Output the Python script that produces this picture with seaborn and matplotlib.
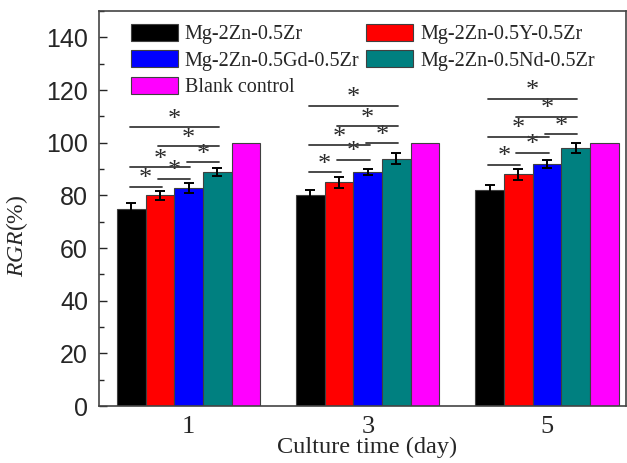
import matplotlib
matplotlib.use("Agg")
import matplotlib.pyplot as plt
import seaborn as sns
import pandas as pd
from matplotlib.ticker import MultipleLocator

# data
days = ["1", "3", "5"]
alloys = ["Mg-2Zn-0.5Zr", "Mg-2Zn-0.5Y-0.5Zr", "Mg-2Zn-0.5Gd-0.5Zr",
          "Mg-2Zn-0.5Nd-0.5Zr", "Blank control"]
colors = ["#000000", "#ff0000", "#0000ff", "#008080", "#ff00ff"]
rgr_zr = [75, 80, 82]
rgr_y = [80, 85, 88]
rgr_gd = [83, 89, 92]
rgr_nd = [89, 94, 98]
rgr_blank = [100, 100, 100]
err_zr = [2.0, 2.2, 2.0]
err_y = [1.8, 2.0, 2.0]
err_gd = [1.9, 1.2, 1.5]
err_nd = [1.6, 2.2, 1.9]

# significance brackets (bar index pairs) and their heights per day
sig_pairs = [(0, 1), (1, 2), (0, 2), (2, 3), (1, 3), (0, 3)]
sig_day1 = [83.3, 86.2, 90.7, 92.6, 98.7, 105.8]
sig_day3 = [88.8, 93.4, 99.0, 99.8, 106.3, 114.1]
sig_day5 = [91.6, 96.2, 102.3, 103.2, 109.9, 116.6]

rows = []
for a, vals, errs in zip(alloys,
                         [rgr_zr, rgr_y, rgr_gd, rgr_nd, rgr_blank],
                         [err_zr, err_y, err_gd, err_nd, [0, 0, 0]]):
    for d, v, e in zip(days, vals, errs):
        rows.append({"day": d, "alloy": a, "rgr": v, "err": e})
df = pd.DataFrame(rows)

sns.set_style("ticks")
plt.rcParams["font.family"] = ["Liberation Serif", "DejaVu Serif"]
plt.rcParams["mathtext.fontset"] = "custom"
plt.rcParams["mathtext.rm"] = "Liberation Serif"
plt.rcParams["mathtext.it"] = "Liberation Serif:italic"

fig = plt.figure(figsize=(6.27, 4.63), dpi=100)
ax = fig.add_axes([0.158, 0.123, 0.84, 0.853])

sns.barplot(data=df, x="day", y="rgr", hue="alloy", order=days,
            hue_order=alloys, palette=colors, saturation=1, errorbar=None,
            width=0.8, edgecolor="#404040", linewidth=0.8, ax=ax)

bar_conts = list(ax.containers)
centers = [[p.get_x() + p.get_width() / 2 for p in c.patches] for c in bar_conts]

# error bars on the bar centres
for xs, a in zip(centers, alloys):
    if a == "Blank control":
        continue
    sub = df[df["alloy"] == a].set_index("day").loc[days]
    ax.errorbar(xs, sub["rgr"], yerr=sub["err"], fmt="none", ecolor="black",
                elinewidth=1.4, capsize=3.5, capthick=1.4, zorder=5)

# significance lines with asterisks
for k, levels in enumerate([sig_day1, sig_day3, sig_day5]):
    for (i, j), h in zip(sig_pairs, levels):
        x0, x1 = centers[i][k] - 0.01, centers[j][k] + 0.01
        ax.plot([x0, x1], [h, h], color="#3a3a3a", lw=1.3, zorder=6)
        ax.annotate("*", xy=((x0 + x1) / 2, h), xytext=(0, 5.5),
                    textcoords="offset points", ha="center", va="center",
                    fontsize=19, color="#2a2a2a")

ax.set_xlim(-0.5, 2.44)
ax.set_ylim(0, 150)
ax.yaxis.set_major_locator(MultipleLocator(20))
ax.yaxis.set_minor_locator(MultipleLocator(10))
ax.set_yticks(range(0, 141, 20))
ax.tick_params(axis="y", which="major", direction="in", length=6, width=1,
               pad=8, labelsize=18)
ax.tick_params(axis="y", which="minor", direction="in", length=3.5, width=1)
ax.tick_params(axis="x", length=0, pad=7, labelsize=19)
for lab in ax.get_yticklabels():
    lab.set_family("Liberation Sans")

for s in ax.spines.values():
    s.set_visible(True)
    s.set_color("#444444")
    s.set_linewidth(1.2)

ax.set_xlabel("Culture time (day)", fontsize=17.5)
ax.set_ylabel(r"$\mathit{RGR}$(%)", fontsize=17)
ax.xaxis.set_label_coords(0.509, -0.078)
ax.yaxis.set_label_coords(-0.131, 0.43)

# legend filled row-wise like the original
handles, labels = ax.get_legend_handles_labels()
order = [0, 2, 4, 1, 3]
ax.legend([handles[i] for i in order], [labels[i] for i in order], ncol=2,
          loc="upper left", bbox_to_anchor=(0.06, 0.967), frameon=False,
          borderaxespad=0, borderpad=0, handlelength=2.33, handleheight=0.9,
          handletextpad=0.35, labelspacing=0.3, columnspacing=0.35,
          fontsize=14.5)

fig.savefig("out.png", dpi=100)
